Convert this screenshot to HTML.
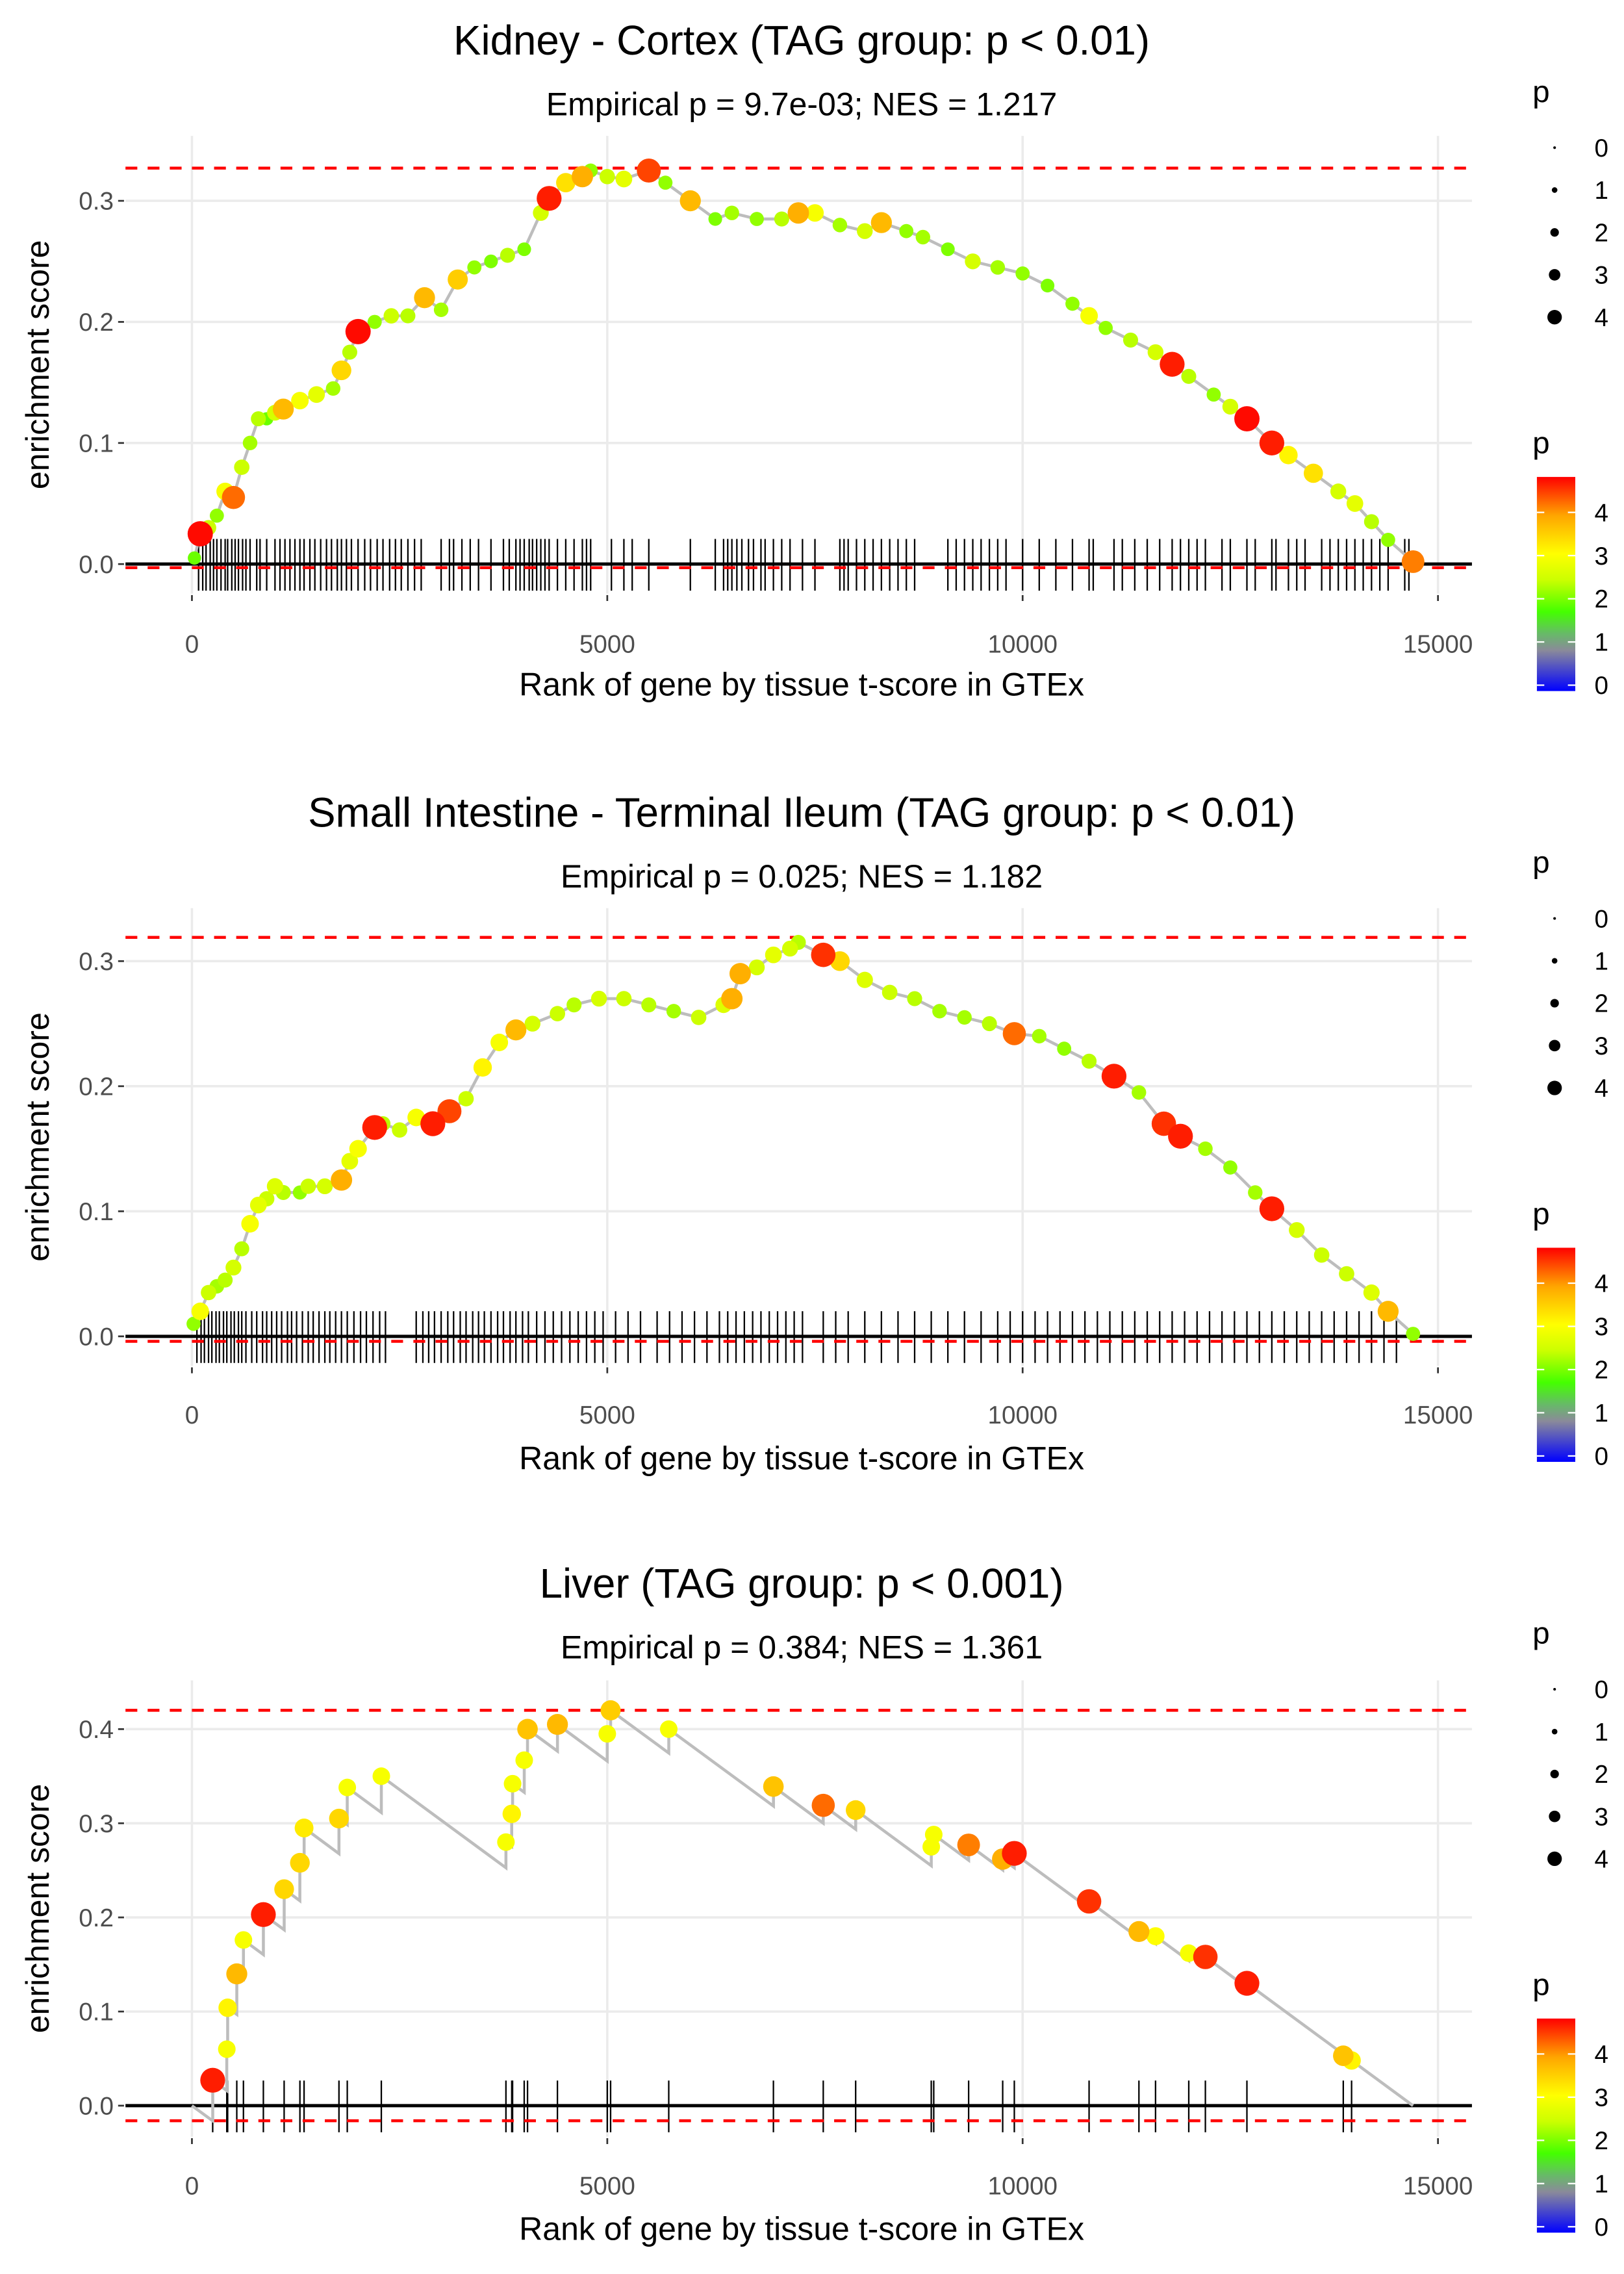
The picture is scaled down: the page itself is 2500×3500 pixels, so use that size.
<!DOCTYPE html>
<html><head><meta charset="utf-8"><style>
html,body{margin:0;padding:0;background:#fff;}
svg{display:block;font-family:"Liberation Sans",sans-serif;}
</style></head><body>
<svg id="chart" width="2500" height="3500" viewBox="0 0 1100 1540" preserveAspectRatio="none" xmlns="http://www.w3.org/2000/svg">
<defs>
<linearGradient id="pgrad" x1="0" y1="1" x2="0" y2="0">
<stop offset="0" stop-color="#0000ff"/>
<stop offset="0.19" stop-color="#8a8a9a"/>
<stop offset="0.27" stop-color="#66bb66"/>
<stop offset="0.37" stop-color="#44ff00"/>
<stop offset="0.52" stop-color="#ccff00"/>
<stop offset="0.64" stop-color="#ffff00"/>
<stop offset="0.82" stop-color="#ffa500"/>
<stop offset="1" stop-color="#ff0000"/>
</linearGradient>
</defs>
</svg>
<script>
// ---- Panel data ----
const titles = ["Kidney - Cortex (TAG group: p < 0.01)","Small Intestine - Terminal Ileum (TAG group: p < 0.01)","Liver (TAG group: p < 0.001)"];
const subtitles = ["Empirical p = 9.7e-03; NES = 1.217","Empirical p = 0.025; NES = 1.182","Empirical p = 0.384; NES = 1.361"];
const xTicks = [0,5000,10000,15000];
const yTicks1 = [0.0,0.1,0.2,0.3];
const yTicks2 = [0.0,0.1,0.2,0.3];
const yTicks3 = [0.0,0.1,0.2,0.3,0.4];
const maxES = [0.327,0.319,0.42];
const minES = [-0.003,-0.004,-0.016];
const nGenes = 14700;

const ranks1 = [30,100,200,300,400,500,600,700,800,900,1000,1100,1300,1500,1700,1800,1900,2000,2200,2400,2600,2800,3000,3200,3400,3600,3800,4000,4200,4300,4500,4700,4800,5000,5200,5500,5700,6000,6300,6500,6800,7100,7300,7500,7800,8100,8300,8600,8800,9100,9400,9700,10000,10300,10600,10800,11000,11300,11600,11800,12000,12300,12500,12700,13000,13200,13500,13800,14000,14200,14400,14700];
const es1 = [0.005,0.025,0.03,0.04,0.06,0.055,0.08,0.1,0.12,0.12,0.125,0.128,0.135,0.14,0.145,0.16,0.175,0.192,0.2,0.205,0.205,0.22,0.21,0.235,0.245,0.25,0.255,0.26,0.29,0.302,0.315,0.32,0.325,0.32,0.318,0.325,0.315,0.3,0.285,0.29,0.285,0.285,0.29,0.29,0.28,0.275,0.282,0.275,0.27,0.26,0.25,0.245,0.24,0.23,0.215,0.205,0.195,0.185,0.175,0.165,0.155,0.14,0.13,0.12,0.1,0.09,0.075,0.06,0.05,0.035,0.02,0.002];
const p1 = [2,4.8,2.5,2.2,3,4.3,2.5,2.3,2.4,2,2.6,3.8,3,2.8,2.3,3.5,2.4,4.8,2.2,2.5,2.4,3.8,2.3,3.6,2.2,2.1,2.4,2.1,2.6,4.7,3.4,3.9,2.2,2.5,2.8,4.5,2.2,3.8,2.1,2.3,2.2,2.4,3.9,3,2.3,2.6,3.8,2.2,2.3,2.1,2.6,2.3,2.2,2.1,2.2,3,2.2,2.4,2.6,4.7,2.4,2.2,2.6,4.8,4.7,3.2,3.4,2.6,2.8,2.4,2.2,4.2];
const rug1 = [80,130,170,220,260,300,350,400,430,480,520,560,610,650,700,780,820,900,1000,1060,1120,1180,1240,1300,1350,1420,1480,1550,1620,1680,1750,1800,1860,1920,2000,2080,2150,2230,2300,2380,2450,2520,2600,2680,2760,3000,3100,3150,3250,3350,3450,3600,3750,3820,3900,3950,4000,4060,4100,4150,4200,4250,4300,4400,4500,4600,4700,4750,4800,5050,5200,5300,5500,6000,6300,6400,6450,6500,6560,6620,6700,6760,6850,6900,7000,7100,7200,7350,7500,7800,7850,7900,8000,8100,8200,8300,8400,8500,8600,8700,9100,9200,9300,9400,9500,9600,9700,9800,10000,10200,10400,10600,10800,10850,11100,11200,11350,11500,11650,11800,11900,12000,12100,12200,12400,12500,12700,12800,13000,13050,13200,13300,13400,13600,13700,13800,13900,14000,14100,14200,14300,14400,14600,14650];

const ranks2 = [20,100,200,300,400,500,600,700,800,900,1000,1100,1300,1400,1600,1800,1900,2000,2200,2300,2500,2700,2900,3100,3300,3500,3700,3900,4100,4400,4600,4900,5200,5500,5800,6100,6400,6500,6600,6800,7000,7200,7300,7600,7800,8100,8400,8700,9000,9300,9600,9900,10200,10500,10800,11100,11400,11700,11900,12200,12500,12800,13000,13300,13600,13900,14200,14400,14700];
const es2 = [0.01,0.02,0.035,0.04,0.045,0.055,0.07,0.09,0.105,0.11,0.12,0.115,0.115,0.12,0.12,0.125,0.14,0.15,0.167,0.17,0.165,0.175,0.17,0.18,0.19,0.215,0.235,0.245,0.25,0.258,0.265,0.27,0.27,0.265,0.26,0.255,0.265,0.27,0.29,0.295,0.305,0.31,0.315,0.305,0.3,0.285,0.275,0.27,0.26,0.255,0.25,0.242,0.24,0.23,0.22,0.208,0.195,0.17,0.16,0.15,0.135,0.115,0.102,0.085,0.065,0.05,0.035,0.02,0.002];
const p2 = [2.2,3,2.5,2.3,2.4,2.6,2.4,3,2.8,2.5,2.7,2.4,2.2,2.5,2.6,3.9,2.8,3,4.7,2.4,2.5,3,4.7,4.5,2.5,3.2,3,3.8,2.6,2.5,2.4,2.6,2.5,2.4,2.3,2.5,2.7,3.9,3.9,2.6,2.8,2.6,2.4,4.6,3.5,2.7,2.5,2.4,2.3,2.3,2.4,4.3,2.3,2.2,2.4,4.7,2.3,4.6,4.7,2.3,2.2,2.3,4.7,2.6,2.5,2.5,2.7,3.8,2.2];
const rug2 = [60,110,150,200,240,290,330,380,420,470,510,560,600,650,720,780,850,900,960,1020,1080,1150,1200,1260,1330,1400,1460,1530,1600,1660,1730,1800,1870,1950,2030,2100,2180,2260,2330,2700,2780,2850,2920,3000,3080,3150,3230,3300,3380,3450,3520,3600,3680,3750,3830,3900,3980,4050,4150,4250,4350,4450,4550,4650,4750,4850,4950,5100,5250,5400,5600,5750,5900,6050,6200,6350,6450,6550,6650,6750,6850,6950,7050,7150,7250,7350,7600,7750,7900,8100,8300,8500,8700,8900,9100,9300,9500,9700,9850,10000,10150,10300,10450,10600,10750,10900,11050,11200,11350,11500,11650,11800,11950,12100,12250,12400,12550,12700,12850,13000,13150,13300,13450,13600,13750,13900,14050,14200,14350,14500];

const ranks3 = [250,420,430,540,620,860,1110,1300,1350,1770,1870,2280,3780,3850,3860,4000,4040,4400,5000,5040,5740,7000,7600,7990,8900,8930,9350,9760,9900,10800,11400,11600,12000,12200,12700,13860,13960];
const es3 = [0.027,0.06,0.104,0.14,0.176,0.203,0.23,0.258,0.295,0.305,0.338,0.35,0.28,0.31,0.342,0.367,0.4,0.405,0.395,0.42,0.4,0.339,0.319,0.314,0.275,0.288,0.277,0.262,0.268,0.217,0.185,0.18,0.162,0.158,0.13,0.053,0.048];
const p3 = [4.7,3,3.2,3.8,3,4.7,3.5,3.5,3.3,3.5,3,3,3,3.2,3,3,3.7,3.8,3,3.6,3,3.7,4.3,3.5,3,3,4.2,3.9,4.7,4.6,3.8,3.1,3,4.6,4.7,3.7,3.2];

// ---- layout (display coordinates, viewBox 1100x1540) ----
const panels = [
 {ranks:ranks1, es:es1, p:p1, rug:rug1, yTicks:yTicks1, y0:382, yPer:820, titleY:27, subY:70, tickY:435, xTitleY:463, panelTop:92, panelBot:402, step:false, legY:0},
 {ranks:ranks2, es:es2, p:p2, rug:rug2, yTicks:yTicks2, y0:905, yPer:847, titleY:550, subY:593, tickY:957, xTitleY:987, panelTop:615, panelBot:925, step:false, legY:522},
 {ranks:ranks3, es:es3, p:p3, rug:ranks3, yTicks:yTicks3, y0:1426, yPer:637.5, titleY:1072, subY:1115, tickY:1479, xTitleY:1509, panelTop:1138, panelBot:1447, step:true, legY:1044}
];
const X0 = 130, XPER = 844/15000, LEFT = 85, RIGHT = 997;
const svg = document.getElementById('chart');
const NS = 'http://www.w3.org/2000/svg';
function mk(tag, attrs, parent){ const e=document.createElementNS(NS,tag); for(const k in attrs) e.setAttribute(k,attrs[k]); (parent||svg).appendChild(e); return e; }
function xs(r){ return X0 + r*XPER; }
const cstops = [[0,[0,0,255]],[0.9,[138,138,154]],[1.3,[102,187,102]],[1.8,[68,255,0]],[2.5,[204,255,0]],[3.1,[255,255,0]],[4.0,[255,165,0]],[4.85,[255,0,0]]];
function pcol(p){
  if(p<=cstops[0][0]) return 'rgb(0,0,255)';
  for(let i=1;i<cstops.length;i++){ if(p<=cstops[i][0]){ const a=cstops[i-1],b=cstops[i]; const t=(p-a[0])/(b[0]-a[0]); const c=a[1].map((v,j)=>Math.round(v+(b[1][j]-v)*t)); return `rgb(${c[0]},${c[1]},${c[2]})`; } }
  return 'rgb(255,0,0)';
}

panels.forEach((P,pi)=>{
  const g = mk('g',{});
  
  
  const ys = v => P.y0 - v*P.yPer;
  const t = mk('text',{x:543,y:P.titleY+10,'text-anchor':'middle','font-size':'28',fill:'#000'},g); t.textContent=titles[pi];
   
  const s = mk('text',{x:543,y:P.subY+8,'text-anchor':'middle','font-size':'22',fill:'#000'},g); s.textContent=subtitles[pi];
   
  xTicks.forEach(v=>{ const l=mk('line',{x1:xs(v),x2:xs(v),y1:P.panelTop,y2:P.panelBot,stroke:'#ebebeb','stroke-width':1.6},g);
     
    mk('line',{x1:xs(v),x2:xs(v),y1:P.panelBot+1,y2:P.panelBot+5,stroke:'#333','stroke-width':1.2},g);
    const tl=mk('text',{x:xs(v),y:P.tickY+7,'text-anchor':'middle','font-size':'17',fill:'#4d4d4d'},g); tl.textContent=String(v);
      });
  P.yTicks.forEach(v=>{ const l=mk('line',{x1:LEFT,x2:RIGHT,y1:ys(v),y2:ys(v),stroke:'#ebebeb','stroke-width':1.6},g);
     
    mk('line',{x1:LEFT-5,x2:LEFT-1,y1:ys(v),y2:ys(v),stroke:'#333','stroke-width':1.2},g);
    const tl=mk('text',{x:LEFT-8,y:ys(v)+6,'text-anchor':'end','font-size':'17',fill:'#4d4d4d'},g); tl.textContent=v.toFixed(1);
      });
  P.rug.forEach(r=>{ const l=mk('line',{x1:xs(r),x2:xs(r),y1:ys(0)-17,y2:ys(0)+18,stroke:'#000','stroke-width':1},g);
      });
  const z=mk('line',{x1:LEFT,x2:RIGHT,y1:ys(0),y2:ys(0),stroke:'#000','stroke-width':2.2},g);
   
  [maxES[pi],minES[pi]].forEach(v=>{ const l=mk('line',{x1:LEFT,x2:RIGHT,y1:ys(v),y2:ys(v),stroke:'#ff0000','stroke-width':2,'stroke-dasharray':'8,7'},g);
      });
  let pts=[];
  if(P.step){
    const n=P.ranks.length; const slope=P.es[n-1]/(nGenes-P.ranks[n-1]);
    let pr=0, pe=0; pts.push([pr,pe]);
    for(let i=0;i<n;i++){ pts.push([P.ranks[i], pe - slope*(P.ranks[i]-pr)]); pts.push([P.ranks[i],P.es[i]]); pr=P.ranks[i]; pe=P.es[i]; }
    pts.push([nGenes,0]);
  } else {
    for(let i=0;i<P.ranks.length;i++) pts.push([P.ranks[i],P.es[i]]);
  }
  const pl=mk('polyline',{points:pts.map(q=>xs(q[0]).toFixed(1)+','+ys(q[1]).toFixed(1)).join(' '),fill:'none',stroke:'#bdbdbd','stroke-width':2},g);
   
  const order=P.ranks.map((_,i)=>i).sort((a,b)=>P.p[a]-P.p[b]);
  order.forEach(i=>{ const c=mk('circle',{cx:xs(P.ranks[i]),cy:ys(P.es[i]),r:(1.6+1.45*P.p[i]).toFixed(2),fill:pcol(P.p[i])},g);
      });
  const xt=mk('text',{x:543,y:P.xTitleY+8,'text-anchor':'middle','font-size':'22',fill:'#000'},g); xt.textContent='Rank of gene by tissue t-score in GTEx';
   
  const cy=(P.panelTop+P.panelBot)/2;
  const yt=mk('text',{x:0,y:0,'text-anchor':'middle','font-size':'22',fill:'#000',transform:`translate(33,${cy}) rotate(-90)`},g); yt.textContent='enrichment score';
   
  const L=P.legY;
  const lt=mk('text',{x:1038,y:L+69,'font-size':'21',fill:'#000'},g); lt.textContent='p';
   
  [0,1,2,3,4].forEach((v,k)=>{ const yy=L+100+k*28.7;
    const c=mk('circle',{cx:1053,cy:yy,r:(0.9+1.0*v).toFixed(2),fill:'#000'},g);
     
    const tx=mk('text',{x:1080,y:yy+6,'font-size':'17',fill:'#000'},g); tx.textContent=String(v);
      });
  const ct=mk('text',{x:1038,y:L+307,'font-size':'21',fill:'#000'},g); ct.textContent='p';
   
  const cb=mk('rect',{x:1041,y:L+323,width:26,height:145,fill:'url(#pgrad)'},g);
   
  [0,1,2,3,4].forEach(v=>{ const yy=L+464-v*29.25;
    mk('line',{x1:1041,x2:1046,y1:yy,y2:yy,stroke:'#fff','stroke-width':1},g);
    mk('line',{x1:1062,x2:1067,y1:yy,y2:yy,stroke:'#fff','stroke-width':1},g);
    const tx=mk('text',{x:1080,y:yy+6,'font-size':'17',fill:'#000'},g); tx.textContent=String(v);
      });
});
</script>
</body></html>
